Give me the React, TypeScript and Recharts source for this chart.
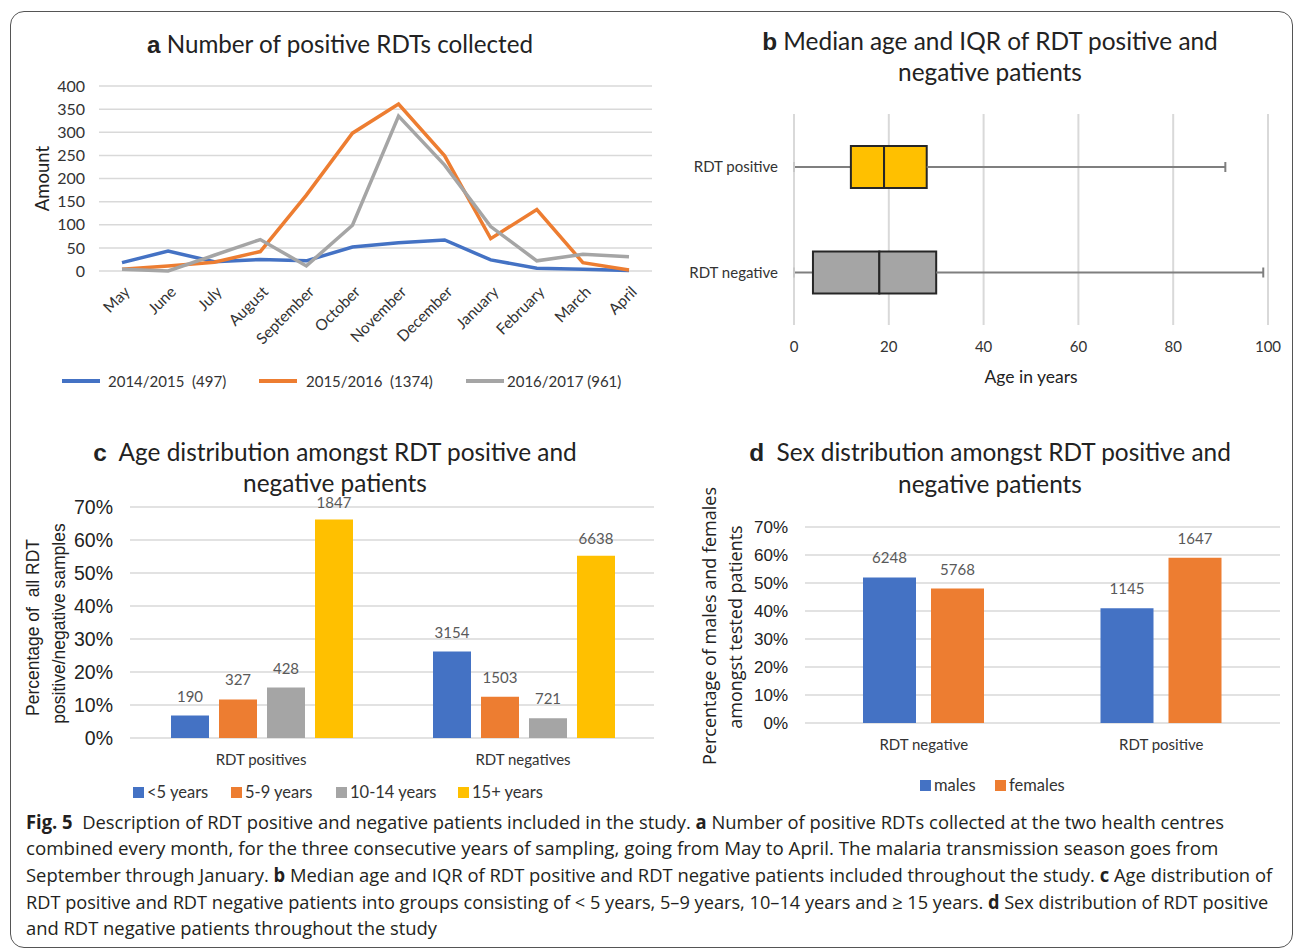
import React from "react";
import { LineChart, Line, BarChart, Bar, ComposedChart, XAxis, YAxis, CartesianGrid, LabelList, Cell } from "recharts";

// a: positive RDTs per month
const months = ["May", "June", "July", "August", "September", "October", "November", "December", "January", "February", "March", "April"];
const cases1415 = [18, 43, 20, 25, 22, 52, 61, 67, 24, 6, 4, 1];
const cases1516 = [4, 11, 19, 42, 164, 298, 361, 249, 70, 133, 18, 2];
const cases1617 = [4, 0, 34, 68, 11, 99, 335, 229, 96, 22, 36, 31];
const amountTicks = [0, 50, 100, 150, 200, 250, 300, 350, 400];

// b: age box plot
const boxGroups = ["RDT positive", "RDT negative"];
const ageMin = [0, 0];
const ageQ1 = [12, 4];
const ageMedian = [19, 18];
const ageQ3 = [28, 30];
const ageMax = [91, 99];
const ageTicks = [0, 20, 40, 60, 80, 100];
const boxColors = ["#FFC000", "#A5A5A5"];

// c: age distribution
const rdtGroups = ["RDT positives", "RDT negatives"];
const under5Pct = [6.8, 26.2];
const under5N = [190, 3154];
const age5to9Pct = [11.7, 12.5];
const age5to9N = [327, 1503];
const age10to14Pct = [15.3, 6.0];
const age10to14N = [428, 721];
const age15plusPct = [66.2, 55.2];
const age15plusN = [1847, 6638];

// d: sex distribution
const sexGroups = ["RDT negative", "RDT positive"];
const malesPct = [52.0, 41.0];
const malesN = [6248, 1145];
const femalesPct = [48.0, 59.0];
const femalesN = [5768, 1647];
const pctTicks = [0, 10, 20, 30, 40, 50, 60, 70];

const BLUE = "#4472C4";
const ORANGE = "#ED7D31";
const GRAY = "#A5A5A5";
const YELLOW = "#FFC000";
const CAL = "Lato, 'Noto Sans', sans-serif";
const ARIAL = "'Liberation Sans', Arial, sans-serif";
const CAPTION = "'Liberation Sans Narrow', 'Open Sans', sans-serif";

const lineData = months.map((m, i) => ({ month: m, s1: cases1415[i], s2: cases1516[i], s3: cases1617[i] }));
const boxData = boxGroups.map((g, i) => ({
  name: g,
  base: ageMin[i],
  lw: ageQ1[i] - ageMin[i],
  lb: ageMedian[i] - ageQ1[i],
  hb: ageQ3[i] - ageMedian[i],
  hw: ageMax[i] - ageQ3[i],
}));
const ageData = rdtGroups.map((g, i) => ({
  group: g,
  u5: under5Pct[i], u5n: under5N[i],
  a59: age5to9Pct[i], a59n: age5to9N[i],
  a1014: age10to14Pct[i], a1014n: age10to14N[i],
  a15: age15plusPct[i], a15n: age15plusN[i],
}));
const sexData = sexGroups.map((g, i) => ({ group: g, m: malesPct[i], mn: malesN[i], f: femalesPct[i], fn: femalesN[i] }));

const MonthTick = (p: any) => (
  <g transform={`translate(${p.x + 5},${p.y + 10})`}>
    <text textAnchor="end" transform="rotate(-45)" dy="0.35em" fontSize={15.5} fontFamily={CAL} fill="#333">
      {p.payload.value}
    </text>
  </g>
);

const Whisker = (p: any) => {
  const cy = p.y + p.height / 2;
  const cx = p.side === "right" ? p.x + p.width : p.x;
  return (
    <g>
      <line x1={p.x} x2={p.x + p.width} y1={cy} y2={cy} stroke="#7f7f7f" strokeWidth={2} />
      <line x1={cx} x2={cx} y1={cy - 5} y2={cy + 5} stroke={p.side === "right" ? "#7f7f7f" : "#c8c8c8"} strokeWidth={2} />
    </g>
  );
};

function Txt({ cx, cy, size, family = CAL, rotate = 0, color = "#222", children }: any) {
  return (
    <div
      style={{
        position: "absolute", left: cx - 400, top: cy - size, width: 800, height: size * 2,
        lineHeight: `${size * 2}px`, textAlign: "center", fontSize: size, fontFamily: family, color,
        transform: rotate ? `rotate(${rotate}deg)` : undefined, whiteSpace: "pre",
      }}
    >
      {children}
    </div>
  );
}

function LTxt({ x, cy, size, children }: any) {
  return (
    <div style={{ position: "absolute", left: x, top: cy - size, height: size * 2, lineHeight: `${size * 2}px`, fontSize: size, fontFamily: CAL, color: "#333", whiteSpace: "pre" }}>
      {children}
    </div>
  );
}

// caption line squeezed to the width it has in the figure
function FitLine({ x, cy, width, size, children }: any) {
  const ref = React.useRef<HTMLDivElement>(null);
  const [k, setK] = React.useState(1);
  React.useLayoutEffect(() => {
    const w = ref.current ? ref.current.offsetWidth : 0;
    if (w > 0) setK(width / w);
  }, [width]);
  return (
    <div
      ref={ref}
      style={{
        position: "absolute", left: x, top: cy - size, height: size * 2, lineHeight: `${size * 2}px`,
        width: "max-content", whiteSpace: "pre", fontSize: size, fontFamily: CAPTION, color: "#231f20",
        transform: `scaleX(${k})`, transformOrigin: "0 50%",
      }}
    >
      {children}
    </div>
  );
}

const swatch = (x: number, cy: number, w: number, h: number, color: string) => (
  <div style={{ position: "absolute", left: x, top: cy - h / 2, width: w, height: h, background: color }} />
);

const B = ({ children }: any) => <b style={{ fontFamily: ARIAL, fontWeight: 700 }}>{children}</b>;

const tickStyle = { fontSize: 15, fill: "#333", fontFamily: CAL };
const labelStyle = { fontSize: 15, fill: "#595959", fontFamily: CAL };

export default function App() {
  return (
    <div style={{ position: "absolute", left: 0, top: 0, width: 1295, height: 951, background: "#fff", overflow: "hidden" }}>
      <div style={{ position: "absolute", left: 10, top: 11, width: 1283, height: 937, border: "1.5px solid #555", borderRadius: 14, boxSizing: "border-box" }} />

      {/* a */}
      <div style={{ position: "absolute", left: 20, top: 70 }}>
        <LineChart width={650} height={330} data={lineData} margin={{ top: 16, right: 18, left: 19, bottom: 0 }}>
          <CartesianGrid vertical={false} stroke="#d9d9d9" strokeWidth={1.5} />
          <XAxis dataKey="month" interval={0} axisLine={false} tickLine={false} height={129} padding={{ left: 23, right: 23 }} tick={(p: any) => <MonthTick {...p} />} />
          <YAxis domain={[0, 400]} ticks={amountTicks} interval={0} width={60} axisLine={false} tickLine={false} tick={{ ...tickStyle, fontSize: 16 }} tickMargin={8} />
          <Line dataKey="s1" stroke={BLUE} strokeWidth={3.5} dot={false} isAnimationActive={false} />
          <Line dataKey="s2" stroke={ORANGE} strokeWidth={3.5} dot={false} isAnimationActive={false} />
          <Line dataKey="s3" stroke={GRAY} strokeWidth={3.5} dot={false} isAnimationActive={false} />
        </LineChart>
      </div>

      {/* b */}
      <div style={{ position: "absolute", left: 680, top: 100 }}>
        <ComposedChart width={610} height={300} data={boxData} layout="vertical" margin={{ top: 14, right: 22, left: 14, bottom: 45 }} barSize={42}>
          <CartesianGrid horizontal={false} stroke="#d9d9d9" strokeWidth={2} />
          <XAxis type="number" domain={[0, 100]} ticks={ageTicks} interval={0} axisLine={false} tickLine={false} height={30} tick={tickStyle} tickMargin={10} />
          <YAxis type="category" dataKey="name" width={100} axisLine={false} tickLine={false} tick={tickStyle} tickMargin={10} />
          <Bar dataKey="base" stackId="b" fill="transparent" isAnimationActive={false} />
          <Bar dataKey="lw" stackId="b" isAnimationActive={false} shape={(p: any) => <Whisker {...p} side="left" />} />
          <Bar dataKey="lb" stackId="b" stroke="#262626" strokeWidth={2} isAnimationActive={false}>
            {boxData.map((_, i) => <Cell key={i} fill={boxColors[i]} />)}
          </Bar>
          <Bar dataKey="hb" stackId="b" stroke="#262626" strokeWidth={2} isAnimationActive={false}>
            {boxData.map((_, i) => <Cell key={i} fill={boxColors[i]} />)}
          </Bar>
          <Bar dataKey="hw" stackId="b" isAnimationActive={false} shape={(p: any) => <Whisker {...p} side="right" />} />
        </ComposedChart>
      </div>

      {/* c */}
      <div style={{ position: "absolute", left: 20, top: 470 }}>
        <BarChart width={650} height={305} data={ageData} margin={{ top: 37, right: 16, left: 50, bottom: 0 }} barGap={10} barCategoryGap={41}>
          <CartesianGrid vertical={false} stroke="#d9d9d9" strokeWidth={1.5} />
          <XAxis dataKey="group" axisLine={false} tickLine={false} height={37} tick={tickStyle} tickMargin={10} />
          <YAxis domain={[0, 70]} ticks={pctTicks} interval={0} width={60} axisLine={false} tickLine={false} tick={{ fontSize: 19.5, fill: "#222", fontFamily: ARIAL }} tickMargin={11} tickFormatter={(v: number) => `${v}%`} />
          <Bar dataKey="u5" fill={BLUE} isAnimationActive={false}><LabelList dataKey="u5n" position="top" offset={14} style={labelStyle} /></Bar>
          <Bar dataKey="a59" fill={ORANGE} isAnimationActive={false}><LabelList dataKey="a59n" position="top" offset={14} style={labelStyle} /></Bar>
          <Bar dataKey="a1014" fill={GRAY} isAnimationActive={false}><LabelList dataKey="a1014n" position="top" offset={14} style={labelStyle} /></Bar>
          <Bar dataKey="a15" fill={YELLOW} isAnimationActive={false}><LabelList dataKey="a15n" position="top" offset={12} style={labelStyle} /></Bar>
        </BarChart>
      </div>

      {/* d */}
      <div style={{ position: "absolute", left: 690, top: 490 }}>
        <BarChart width={600} height={265} data={sexData} margin={{ top: 37, right: 10, left: 55, bottom: 0 }} barGap={15} barSize={53} barCategoryGap={58}>
          <CartesianGrid vertical={false} stroke="#d9d9d9" strokeWidth={1.5} />
          <XAxis dataKey="group" axisLine={false} tickLine={false} height={32} tick={tickStyle} tickMargin={10} />
          <YAxis domain={[0, 70]} ticks={pctTicks} interval={0} width={60} axisLine={false} tickLine={false} tick={{ fontSize: 17, fill: "#222", fontFamily: ARIAL }} tickMargin={11} tickFormatter={(v: number) => `${v}%`} />
          <Bar dataKey="m" fill={BLUE} isAnimationActive={false}><LabelList dataKey="mn" position="top" offset={14} style={labelStyle} /></Bar>
          <Bar dataKey="f" fill={ORANGE} isAnimationActive={false}><LabelList dataKey="fn" position="top" offset={14} style={labelStyle} /></Bar>
        </BarChart>
      </div>

      {/* titles */}
      <Txt cx={340} cy={44} size={24.2}><B>a</B> Number of positive RDTs collected</Txt>
      <Txt cx={990} cy={41} size={24.4}><B>b</B> Median age and IQR of RDT positive and</Txt>
      <Txt cx={990} cy={72} size={24.4}>negative patients</Txt>
      <Txt cx={335} cy={452} size={24.4}><B>c</B>  Age distribution amongst RDT positive and</Txt>
      <Txt cx={335} cy={483} size={24.4}>negative patients</Txt>
      <Txt cx={990} cy={452} size={24.4}><B>d</B>  Sex distribution amongst RDT positive and</Txt>
      <Txt cx={990} cy={484} size={24.4}>negative patients</Txt>

      {/* axis titles */}
      <Txt cx={42} cy={178} size={18.5} rotate={-90}>Amount</Txt>
      <Txt cx={1031} cy={376} size={17.5}>Age in years</Txt>
      <Txt cx={33} cy={627} size={17.5} family={ARIAL} rotate={-90}>Percentage of  all RDT</Txt>
      <Txt cx={59} cy={623} size={17.5} family={ARIAL} rotate={-90}>positive/negative samples</Txt>
      <Txt cx={709} cy={626} size={18} family="'Open Sans', sans-serif" rotate={-90}>Percentage of males and females</Txt>
      <Txt cx={735} cy={627} size={18} family="'Open Sans', sans-serif" rotate={-90}>amongst tested patients</Txt>

      {/* legend a */}
      {swatch(62, 381, 38, 4, BLUE)}
      <LTxt x={108} cy={381} size={15}>2014/2015  (497)</LTxt>
      {swatch(259, 381, 38, 4, ORANGE)}
      <LTxt x={306} cy={381} size={15}>2015/2016  (1374)</LTxt>
      {swatch(466, 381, 38, 4, GRAY)}
      <LTxt x={507} cy={381} size={15}>2016/2017 (961)</LTxt>

      {/* legend c */}
      {swatch(133, 792, 11, 11, BLUE)}
      <LTxt x={147} cy={792} size={16.5}>&lt;5 years</LTxt>
      {swatch(231, 792, 11, 11, ORANGE)}
      <LTxt x={245} cy={792} size={16.5}>5-9 years</LTxt>
      {swatch(336, 792, 11, 11, GRAY)}
      <LTxt x={350} cy={792} size={16.5}>10-14 years</LTxt>
      {swatch(458, 792, 11, 11, YELLOW)}
      <LTxt x={472} cy={792} size={16.5}>15+ years</LTxt>

      {/* legend d */}
      {swatch(920, 785, 11, 11, BLUE)}
      <LTxt x={934} cy={785} size={16.5}>males</LTxt>
      {swatch(995, 785, 11, 11, ORANGE)}
      <LTxt x={1009} cy={785} size={16.5}>females</LTxt>

      {/* caption */}
      <FitLine x={26} cy={822} width={1198} size={19}>
        <b>Fig. 5</b>{"  Description of RDT positive and negative patients included in the study. "}<b>a</b>{" Number of positive RDTs collected at the two health centres"}
      </FitLine>
      <FitLine x={26} cy={848} width={1192} size={19}>
        combined every month, for the three consecutive years of sampling, going from May to April. The malaria transmission season goes from
      </FitLine>
      <FitLine x={26} cy={875} width={1246} size={19}>
        {"September through January. "}<b>b</b>{" Median age and IQR of RDT positive and RDT negative patients included throughout the study. "}<b>c</b>{" Age distribution of"}
      </FitLine>
      <FitLine x={26} cy={902} width={1242} size={19}>
        {"RDT positive and RDT negative patients into groups consisting of < 5 years, 5–9 years, 10–14 years and ≥ 15 years. "}<b>d</b>{" Sex distribution of RDT positive"}
      </FitLine>
      <FitLine x={26} cy={928} width={411} size={19}>
        and RDT negative patients throughout the study
      </FitLine>
    </div>
  );
}
